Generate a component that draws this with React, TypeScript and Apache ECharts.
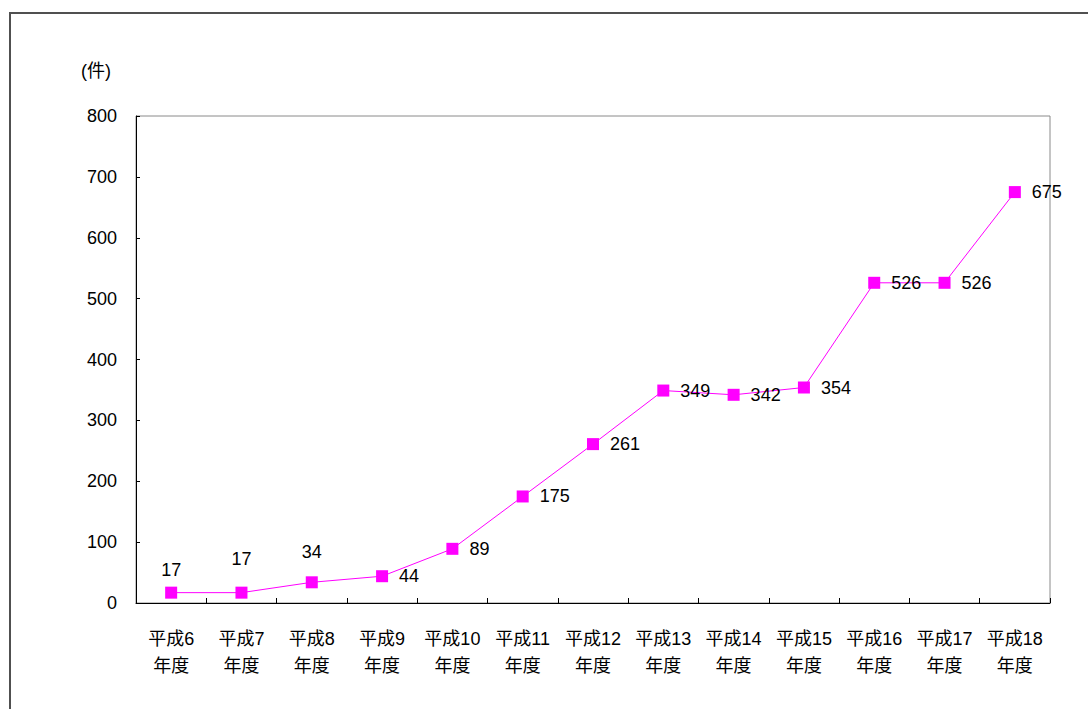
import React, { useEffect, useRef } from "react";
import * as echarts from "echarts";

const categories = [
  "平成6\n年度", "平成7\n年度", "平成8\n年度", "平成9\n年度", "平成10\n年度",
  "平成11\n年度", "平成12\n年度", "平成13\n年度", "平成14\n年度", "平成15\n年度",
  "平成16\n年度", "平成17\n年度", "平成18\n年度",
];
const values = [17, 17, 34, 44, 89, 175, 261, 349, 342, 354, 526, 526, 675];
// label placement per point: "top" with distance, or "right"
const labelPos = ["top", "top", "top", "right", "right", "right", "right", "right", "right", "right", "right", "right", "right"];
const labelDist = [8, 19, 15, 11, 11, 11, 11, 11, 11, 11, 11, 11, 11];
const unitLabel = "(件)";

const FONT = "'Liberation Sans', 'Noto Sans CJK JP', sans-serif";
const MAGENTA = "#FF00FF";

export default function App() {
  const ref = useRef<HTMLDivElement>(null);
  useEffect(() => {
    if (!ref.current) return;
    const chart = echarts.init(ref.current, null, { renderer: "svg" });
    chart.setOption({
      animation: false,
      backgroundColor: "#fff",
      textStyle: { fontFamily: FONT },
      grid: {
        left: 136,
        top: 116,
        width: 914,
        height: 487,
        show: true,
        borderColor: "#8a8a8a",
        borderWidth: 1,
        backgroundColor: "transparent",
      },
      graphic: [
        {
          type: "rect",
          shape: { x: 10, y: 13, width: 1200, height: 800 },
          style: { fill: "none", stroke: "#505050", lineWidth: 2 },
          silent: true,
        },
        {
          type: "text",
          left: 81,
          top: 62,
          style: { text: unitLabel, fontSize: 18, fontFamily: FONT, fill: "#000" },
        },
      ],
      xAxis: {
        type: "category",
        data: categories,
        boundaryGap: true,
        axisLine: { show: true, lineStyle: { color: "#000", width: 1 } },
        axisTick: { show: true, inside: true, length: 5, lineStyle: { color: "#000" } },
        axisLabel: {
          color: "#000",
          fontSize: 18,
          lineHeight: 27,
          margin: 22,
          fontFamily: FONT,
          interval: 0,
        },
        splitLine: { show: false },
      },
      yAxis: {
        type: "value",
        min: 0,
        max: 800,
        interval: 100,
        axisLine: { show: true, lineStyle: { color: "#000", width: 1 } },
        axisTick: { show: true, inside: true, length: 4, lineStyle: { color: "#000" } },
        axisLabel: { color: "#000", fontSize: 18, margin: 19, fontFamily: FONT },
        splitLine: { show: false },
      },
      series: [
        {
          type: "line",
          data: values.map((v, i) => ({
            value: v,
            label: {
              show: true,
              position: labelPos[i],
              distance: labelDist[i],
            },
          })),
          symbol: "rect",
          symbolSize: 12,
          lineStyle: { color: MAGENTA, width: 1 },
          itemStyle: { color: MAGENTA, borderWidth: 0 },
          label: {
            show: true,
            color: "#000",
            fontSize: 18,
            fontFamily: FONT,
          },
          z: 3,
        },
      ],
    });
    return () => chart.dispose();
  }, []);
  return (
    <div
      ref={ref}
      style={{ position: "absolute", left: 0, top: 0, width: 1088, height: 709 }}
    />
  );
}
